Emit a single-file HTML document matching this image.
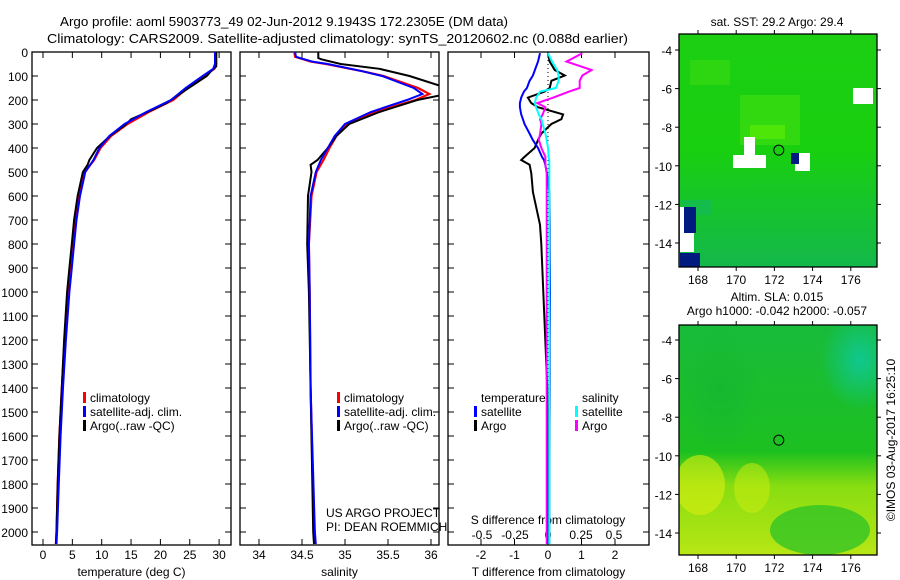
<!DOCTYPE html>
<html><head><meta charset="utf-8"><style>
body{margin:0;background:#fff;width:900px;height:580px;overflow:hidden}
svg{display:block;font-family:"Liberation Sans",sans-serif;font-size:12px}
</style></head><body>
<svg id="fig" width="900" height="580" viewBox="0 0 900 580">
<defs>
<linearGradient id="sstg" x1="0" y1="0" x2="0" y2="1"><stop offset="0" stop-color="#1ccf12"/><stop offset="0.5" stop-color="#18cf10"/><stop offset="1" stop-color="#13b84a"/></linearGradient>
<linearGradient id="slag" x1="0" y1="0" x2="0" y2="1"><stop offset="0" stop-color="#18bb3a"/><stop offset="0.55" stop-color="#1cc020"/><stop offset="0.7" stop-color="#88dd11"/><stop offset="1" stop-color="#b8e614"/></linearGradient>
<radialGradient id="teal" cx="0.5" cy="0.5" r="0.5"><stop offset="0" stop-color="#10c890"/><stop offset="1" stop-color="#10c890" stop-opacity="0"/></radialGradient>
<radialGradient id="dgreen" cx="0.5" cy="0.5" r="0.5"><stop offset="0" stop-color="#16b830"/><stop offset="1" stop-color="#16b830" stop-opacity="0"/></radialGradient>
</defs>
<text x="60" y="26" font-size="13" textLength="448" lengthAdjust="spacingAndGlyphs">Argo profile: aoml 5903773_49 02-Jun-2012 9.1943S 172.2305E (DM data)</text>
<text x="47" y="43" font-size="13" textLength="581" lengthAdjust="spacingAndGlyphs">Climatology: CARS2009. Satellite-adjusted climatology: synTS_20120602.nc (0.088d earlier)</text>
<g id="plots"></g>
<g id="maps"></g>
<text transform="translate(895,440) rotate(-90)" text-anchor="middle" font-size="12">©IMOS 03-Aug-2017 16:25:10</text>
</svg>
<script>
// ---- data ----
const depthTicks=[0,100,200,300,400,500,600,700,800,900,1000,1100,1200,1300,1400,1500,1600,1700,1800,1900,2000];
const tempTicks=[0,5,10,15,20,25,30];
const salTicks=[34,34.5,35,35.5,36];
const tdiffTicks=[-2,-1,0,1,2];
const sdiffTicks=[-0.5,-0.25,0,0.25,0.5];
const sdiffLabels=["-0.5","-0.25","0","0.25","0.5"];

const tClimDepth=[0,50,70,100,150,200,250,300,350,400,450,500,600,700,800,900,1000,1200,1400,1600,1800,2000,2050];
const tClim=[29.5,29.5,29.2,27.4,24.6,22.2,18.0,14.4,11.6,9.8,8.7,7.1,6.1,5.5,5.1,4.7,4.3,3.7,3.2,2.8,2.5,2.3,2.2];
const tSat=[29.3,29.3,29.0,27.2,24.3,21.8,17.6,13.9,11.3,9.6,8.6,7.2,6.3,5.7,5.3,4.9,4.5,3.9,3.4,3.0,2.7,2.4,2.3];
const argoDepth=[0,60,80,100,150,200,213,250,280,300,350,400,450,470,500,600,700,800,900,1000,1200,1400,1600,1800,2000,2050];
const tArgo=[29.5,29.5,28.6,27.9,24.8,21.8,21.0,17.8,15.0,14.2,11.4,9.2,7.9,7.6,6.8,5.9,5.3,4.9,4.5,4.1,3.6,3.2,2.8,2.5,2.3,2.2];

const sClimDepth=[0,20,40,50,80,100,150,175,200,250,300,350,400,450,500,600,800,1000,1400,2000,2050];
const sClim=[34.41,34.42,34.6,34.78,35.2,35.45,35.85,35.98,35.82,35.35,35.02,34.9,34.82,34.75,34.67,34.61,34.58,34.59,34.6,34.64,34.65];
const sSat=[34.42,34.43,34.62,34.8,35.2,35.43,35.8,35.9,35.72,35.3,35.0,34.88,34.8,34.72,34.66,34.6,34.58,34.59,34.6,34.65,34.66];
const sArgoDepth=[0,25,30,50,70,100,140,180,200,250,300,350,400,450,470,500,600,800,1000,1400,2000,2050];
const sArgo=[34.69,34.69,34.72,34.95,35.4,35.75,36.1,36.12,35.84,35.4,35.05,34.9,34.8,34.68,34.6,34.61,34.57,34.56,34.58,34.6,34.63,34.64];

const dDepth=[5,40,75,98,120,150,165,190,213,230,260,280,300,340,367,400,437,450,470,506,583,720,800,1000,1200,1400,1700,2050];
const dTSat=[-0.24,-0.3,-0.39,-0.45,-0.55,-0.63,-0.72,-0.8,-0.84,-0.84,-0.8,-0.75,-0.7,-0.55,-0.45,-0.3,-0.18,-0.12,-0.08,-0.03,0.04,0.05,0.05,0.06,0.05,0.05,0.04,0.04];
const dTArgo=[0,0.05,0.2,0.5,0.1,0.05,-0.1,-0.6,-0.5,-0.3,0.45,0.4,0.1,-0.2,-0.3,-0.4,-0.7,-0.8,-0.55,-0.5,-0.45,-0.24,-0.2,-0.14,-0.08,-0.02,0,0];
const dSSat=[0,0.03,0.07,0.08,0.08,0.06,-0.06,-0.09,-0.1,-0.09,-0.07,-0.05,-0.04,-0.02,-0.01,0,0.005,0.01,0.01,0.01,0.01,0.01,0.01,0.01,0.01,0.01,0.01,0.01];
const dSArgo=[0.26,0.14,0.33,0.26,0.24,0.24,0.16,0.04,-0.08,-0.02,-0.04,-0.06,-0.05,-0.06,-0.07,-0.05,-0.02,-0.02,-0.02,-0.01,-0.01,-0.01,-0.01,-0.01,-0.01,-0.01,-0.01,-0.01];

// ---- axes ----
const NS="http://www.w3.org/2000/svg";
const top0=52,bot=545;
const yD=d=>top0+d*0.24;
function mk(tag,attrs,parent,txt){const e=document.createElementNS(NS,tag);for(const k in attrs)e.setAttribute(k,attrs[k]);if(txt!==undefined)e.textContent=txt;parent.appendChild(e);return e;}
const G=document.getElementById('plots');
const panels=[
 {x0:32,x1:231,fx:v=>43+v*5.87,ticks:tempTicks,labels:tempTicks.map(String),xlabel:"temperature (deg C)",name:"temperature"},
 {x0:240,x1:439,fx:v=>259+(v-34)*86,ticks:salTicks,labels:salTicks.map(String),xlabel:"salinity",name:"salinity"},
 {x0:448,x1:649,fx:v=>548+v*33.5,ticks:tdiffTicks,labels:tdiffTicks.map(String),xlabel:"T difference from climatology",name:"difference"}
];
panels.forEach((p,i)=>{
  const g=mk('g',{},G);
  
  
  const fr=mk('rect',{x:p.x0,y:top0,width:p.x1-p.x0,height:bot-top0,fill:'#fff',stroke:'#000','stroke-width':1.3},g);
  
  
  depthTicks.forEach(d=>{
    mk('line',{x1:p.x0,x2:p.x0+6,y1:yD(d),y2:yD(d),stroke:'#000'},g);
    mk('line',{x1:p.x1-6,x2:p.x1,y1:yD(d),y2:yD(d),stroke:'#000'},g);
    if(i===0){const t=mk('text',{x:28,y:yD(d)+5,'text-anchor':'end'},g,String(d));
      
      }
  });
  p.ticks.forEach((v,j)=>{
    const x=p.fx(v);
    mk('line',{x1:x,x2:x,y1:bot-6,y2:bot,stroke:'#000'},g);
    mk('line',{x1:x,x2:x,y1:top0,y2:top0+6,stroke:'#000'},g);
    const t=mk('text',{x:x,y:559,'text-anchor':'middle'},g,p.labels[j]);
    
    
  });
  const xl=mk('text',{x:(p.x0+p.x1)/2,y:576,'text-anchor':'middle'},g,p.xlabel);
  
  
});
// S diff axis inside panel 3
const fS=v=>548+v*132;
sdiffTicks.forEach((v,j)=>{
  const t=mk('text',{x:fS(v),y:539,'text-anchor':'middle'},G,sdiffLabels[j]);
  
  
});
{const t=mk('text',{x:548,y:524,'text-anchor':'middle'},G,"S difference from climatology");
 
 }
{const l=mk('line',{x1:548,x2:548,y1:top0,y2:bot,stroke:'#000','stroke-dasharray':'1,3'},G);
 
 }

function line(depths,vals,fx,color,name,w,clipId){
  const pts=depths.map((d,k)=>fx(vals[k]).toFixed(1)+','+yD(d).toFixed(1)).join(' ');
  const e=mk('polyline',{points:pts,fill:'none',stroke:color,'stroke-width':w||2,'clip-path':'url(#'+clipId+')'},G);
  
  
}
const defs=document.querySelector('defs');
panels.forEach((p,i)=>{const c=mk('clipPath',{id:'c'+i},defs);mk('rect',{x:p.x0,y:top0,width:p.x1-p.x0,height:bot-top0},c);});
line(tClimDepth,tClim,panels[0].fx,'#f00','temp-climatology-line',2.2,'c0');
line(argoDepth,tArgo,panels[0].fx,'#000','temp-argo-line',2,'c0');
line(tClimDepth,tSat,panels[0].fx,'#00f','temp-satellite-line',2,'c0');
line(sClimDepth,sClim,panels[1].fx,'#f00','sal-climatology-line',2.2,'c1');
line(sArgoDepth,sArgo,panels[1].fx,'#000','sal-argo-line',2,'c1');
line(sClimDepth,sSat,panels[1].fx,'#00f','sal-satellite-line',2,'c1');
line(dDepth,dTArgo,panels[2].fx,'#000','tdiff-argo-line',2,'c2');
line(dDepth,dTSat,panels[2].fx,'#00f','tdiff-satellite-line',2,'c2');
line(dDepth,dSArgo,fS,'#f0f','sdiff-argo-line',2,'c2');
line(dDepth,dSSat,fS,'#0ff','sdiff-satellite-line',2,'c2');

function legend(x,y,items){
  items.forEach((it,k)=>{
    const g=mk('g',{},G);
    
    
    if(it[1]) mk('rect',{x:x,y:y+k*14-10,width:3,height:11,fill:it[1]},g);
    mk('text',{x:x+7,y:y+k*14},g,it[0]);
  });
}
legend(83,402,[["climatology","#f00"],["satellite-adj. clim.","#00f"],["Argo(..raw -QC)","#000"]]);
legend(337,402,[["climatology","#f00"],["satellite-adj. clim.","#00f"],["Argo(..raw -QC)","#000"]]);
legend(474,402,[["temperature",null],["satellite","#00f"],["Argo","#000"]]);
legend(575,402,[["salinity",null],["satellite","#0ff"],["Argo","#f0f"]]);
{const t=mk('text',{x:326,y:517},G,"US ARGO PROJECT");
 const t2=mk('text',{x:326,y:531},G,"PI: DEAN ROEMMICH");}

// ---- maps ----
const M=document.getElementById('maps');
const lonTicks=[168,170,172,174,176];
const latTicks=[-4,-6,-8,-10,-12,-14];
const argoLon=172.23, argoLat=-9.19;
function drawMap(y0,y1,latTopAt,fill,name,extra){
  const x0=679,x1=877;
  const fx=v=>698+(v-168)*19.1;
  const fy=v=>latTopAt+(-4-v)*19.3;
  const cid='clip-'+name;
  const c=mk('clipPath',{id:cid},defs);mk('rect',{x:x0,y:y0,width:x1-x0,height:y1-y0},c);
  const g=mk('g',{},M);
  
  
  const inner=mk('g',{'clip-path':'url(#'+cid+')'},g);
  mk('rect',{x:x0,y:y0,width:x1-x0,height:y1-y0,fill:fill},inner);
  extra(inner,x0,y0,x1,y1,fx,fy);
  mk('rect',{x:x0,y:y0,width:x1-x0,height:y1-y0,fill:'none',stroke:'#000','stroke-width':1.3},g);
  lonTicks.forEach(v=>{mk('line',{x1:fx(v),x2:fx(v),y1:y0-4,y2:y0,stroke:'#000'},g);mk('line',{x1:fx(v),x2:fx(v),y1:y1,y2:y1+4,stroke:'#000'},g);
    const t=mk('text',{x:fx(v),y:y1+17,'text-anchor':'middle'},g,String(v));});
  latTicks.forEach(v=>{mk('line',{x1:x0-4,x2:x0,y1:fy(v),y2:fy(v),stroke:'#000'},g);mk('line',{x1:x1,x2:x1+4,y1:fy(v),y2:fy(v),stroke:'#000'},g);
    const t=mk('text',{x:x0-7,y:fy(v)+5,'text-anchor':'end'},g,String(v));});
  const m=mk('circle',{cx:fx(argoLon),cy:fy(argoLat),r:5,fill:'none',stroke:'#000','stroke-width':1},g);
  
  
}
drawMap(34,267,50,'url(#sstg)','sst-map',(g)=>{
  mk('rect',{x:740,y:95,width:60,height:50,fill:'#44e010',opacity:0.6},g);
  mk('rect',{x:750,y:125,width:35,height:14,fill:'#55e808',opacity:0.8},g);
  mk('rect',{x:690,y:60,width:40,height:25,fill:'#40dd10',opacity:0.5},g);
  mk('rect',{x:744,y:137,width:11,height:19,fill:'#fff'},g);
  mk('rect',{x:733,y:155,width:33,height:13,fill:'#fff'},g);
  mk('rect',{x:795,y:153,width:15,height:18,fill:'#fff'},g);
  mk('rect',{x:791,y:153,width:8,height:11,fill:'#001a80'},g);
  mk('rect',{x:853,y:88,width:20,height:16,fill:'#fff'},g);
  mk('rect',{x:681,y:200,width:30,height:15,fill:'#14b860',opacity:0.6},g);
  mk('rect',{x:680,y:207,width:14,height:45,fill:'#fff'},g);
  mk('rect',{x:684,y:207,width:12,height:26,fill:'#001a80'},g);
  mk('rect',{x:680,y:253,width:20,height:14,fill:'#001a80'},g);
});
drawMap(325,555,340,'url(#slag)','sla-map',(g)=>{
  mk('ellipse',{cx:860,cy:360,rx:40,ry:50,fill:'url(#teal)'},g);
  mk('ellipse',{cx:720,cy:390,rx:40,ry:60,fill:'url(#dgreen)'},g);
  mk('ellipse',{cx:820,cy:530,rx:50,ry:25,fill:'#22c028',opacity:0.7},g);
  mk('ellipse',{cx:700,cy:485,rx:25,ry:30,fill:'#d8ee10',opacity:0.6},g);
  mk('ellipse',{cx:752,cy:488,rx:18,ry:25,fill:'#d0ee10',opacity:0.5},g);
});
[["sat. SST: 29.2 Argo: 29.4",26,'sst-map-title'],["Altim. SLA: 0.015",301,'sla-map-title'],["Argo h1000: -0.042 h2000: -0.057",315,'sla-map-subtitle']].forEach(a=>{
  const t=mk('text',{x:777,y:a[1],'text-anchor':'middle'},M,a[0]);
  
  
});
</script>
</body></html>
